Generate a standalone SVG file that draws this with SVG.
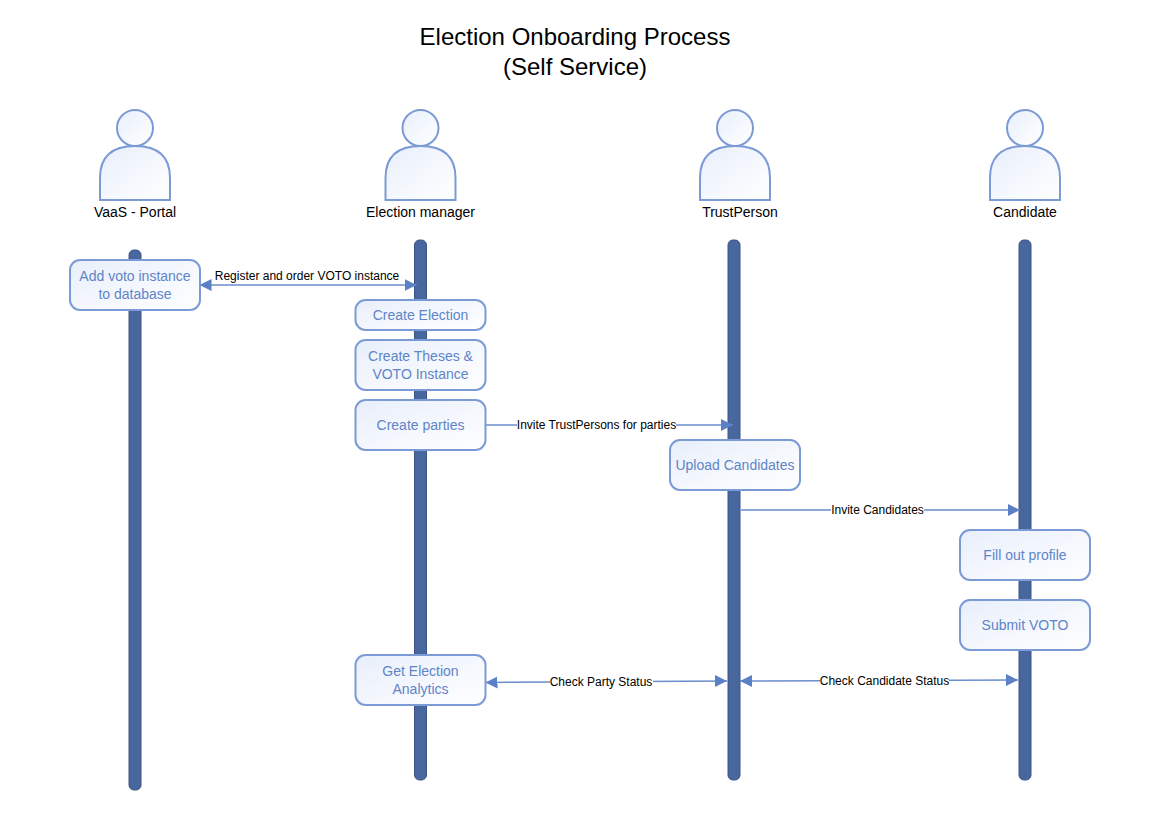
<svg xmlns="http://www.w3.org/2000/svg" width="1169" height="827" viewBox="0 0 1169 827">
<style>
text{font-family:"Liberation Sans",Arial,sans-serif;text-anchor:middle}
.title{font-size:24px;fill:#000}
.actor{font-size:14px;fill:#000}
.lbl{font-size:12px;fill:#000}
.box text{font-size:14px;fill:#5f84c8}
.box rect{fill:url(#g);stroke:#7c9bd6;stroke-width:2}
.person path,.person circle{fill:url(#g);stroke:#7c9bd6;stroke-width:2}
.life{fill:#48679f;stroke:#3a5484;stroke-width:1}
.c{fill:none;stroke:#6a8dcc;stroke-width:1.5}
.bg{fill:#fff}
</style>
<defs>
<linearGradient id="g" x1="0" y1="0" x2="1" y2="1"><stop offset="0" stop-color="#e8effb"/><stop offset="1" stop-color="#ffffff"/></linearGradient>
<marker id="a" markerUnits="userSpaceOnUse" markerWidth="13" markerHeight="14" refX="12" refY="7" orient="auto-start-reverse"><path d="M0 1L12 7L0 13Z" fill="#5b80c6"/></marker>
</defs>
<rect width="1169" height="827" fill="#fff"/>
<text class="title" x="575" y="45">Election Onboarding Process</text>
<text class="title" x="575" y="75">(Self Service)</text>

<g id="lifelines">
<rect class="life" x="129" y="250" width="12" height="540" rx="5"/>
<rect class="life" x="414.500" y="240" width="12" height="540" rx="5"/>
<rect class="life" x="728" y="240" width="12" height="540" rx="5"/>
<rect class="life" x="1019" y="240" width="12" height="540" rx="5"/>
</g>

<g id="actor-vaas" class="person"><circle cx="135" cy="128" r="18"/><path d="M100 200V178C100 156 112 146 135 146C158 146 170 156 170 178V200Z"/><text class="actor" x="135" y="217">VaaS - Portal</text></g>
<g id="actor-manager" class="person"><circle cx="420.500" cy="128" r="18"/><path d="M385.500 200V178C385.500 156 397.500 146 420.500 146C443.500 146 455.500 156 455.500 178V200Z"/><text class="actor" x="420.500" y="217">Election manager</text></g>
<g id="actor-trust" class="person"><circle cx="735" cy="128" r="18"/><path d="M700 200V178C700 156 712 146 735 146C758 146 770 156 770 178V200Z"/><text class="actor" x="740" y="217">TrustPerson</text></g>
<g id="actor-candidate" class="person"><circle cx="1025" cy="128" r="18"/><path d="M990 200V178C990 156 1002 146 1025 146C1048 146 1060 156 1060 178V200Z"/><text class="actor" x="1025" y="217">Candidate</text></g>

<g id="connectors">
<path class="c" d="M199.500 285H416.500" marker-start="url(#a)" marker-end="url(#a)"/>
<path class="c" d="M485.500 425H733" marker-end="url(#a)"/>
<path class="c" d="M741 510H1020" marker-end="url(#a)"/>
<path class="c" d="M485.500 682.500L727 681" marker-start="url(#a)" marker-end="url(#a)"/>
<path class="c" d="M740 681L1018 680" marker-start="url(#a)" marker-end="url(#a)"/>
<text class="lbl" x="307" y="280">Register and order VOTO instance</text>
<rect class="bg" x="517" y="418" width="159" height="14"/><text class="lbl" x="596.500" y="429">Invite TrustPersons for parties</text>
<rect class="bg" x="831" y="503" width="93" height="14"/><text class="lbl" x="877.500" y="514">Invite Candidates</text>
<rect class="bg" x="550" y="675" width="103" height="14"/><text class="lbl" x="601" y="686">Check Party Status</text>
<rect class="bg" x="820" y="674" width="129" height="14"/><text class="lbl" x="884.500" y="685">Check Candidate Status</text>
</g>

<g id="n1" class="box"><rect x="70" y="260" width="130" height="50" rx="10"/><text x="135" y="281">Add voto instance</text><text x="135" y="299">to database</text></g>
<g id="n2" class="box"><rect x="355.500" y="300" width="130" height="30" rx="10"/><text x="420.500" y="320">Create Election</text></g>
<g id="n3" class="box"><rect x="355.500" y="340" width="130" height="50" rx="10"/><text x="420.500" y="361">Create Theses &amp;</text><text x="420.500" y="379">VOTO Instance</text></g>
<g id="n4" class="box"><rect x="355.500" y="400" width="130" height="50" rx="10"/><text x="420.500" y="430">Create parties</text></g>
<g id="n5" class="box"><rect x="670" y="440" width="130" height="50" rx="10"/><text x="735" y="470">Upload Candidates</text></g>
<g id="n6" class="box"><rect x="960" y="530" width="130" height="50" rx="10"/><text x="1025" y="560">Fill out profile</text></g>
<g id="n7" class="box"><rect x="960" y="600" width="130" height="50" rx="10"/><text x="1025" y="630">Submit VOTO</text></g>
<g id="n8" class="box"><rect x="355.500" y="655" width="130" height="50" rx="10"/><text x="420.500" y="676">Get Election</text><text x="420.500" y="694">Analytics</text></g>
</svg>
